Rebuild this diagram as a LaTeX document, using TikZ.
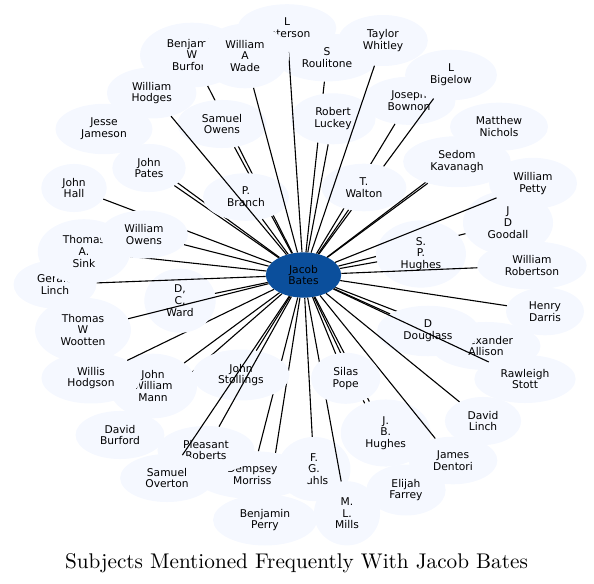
\documentclass[tikz,border=0pt]{standalone}
\usepackage{fontspec}
\newfontfamily\dejavu{DejaVu Sans}
\usetikzlibrary{shapes.geometric}
\definecolor{mist}{RGB}{245,248,255}
\definecolor{jacobblue}{RGB}{11,79,156}
\tikzset{
    person/.style={ellipse, fill=mist, inner xsep=11.5bp, inner ysep=7bp,
      align=center, font=\dejavu\fontsize{10.7bp}{11.7bp}\selectfont},
    hub/.style={person, fill=jacobblue, inner ysep=6bp},
    link/.style={line width=1.1bp}
}

\begin{document}
\begin{tikzpicture}[x=1bp,y=-1bp]
    \useasboundingbox (0,0) rectangle (594,584);
    \node[hub] (jb) at (303.5,275) {Jacob\\Bates};
    % each person, then the link back to Jacob Bates
    \foreach \nm/\x/\y/\txt in {
      rou/327/57.5/{S\\Roulitone}, luc/333/118.8/{Robert\\Luckey},
      pet/287/28/{L\\Peterson}, bbu/192/55/{Benjamin\\W\\Burford},
      jam/104/129/{Jesse\\Jameson}, pat/149/168/{John\\Pates},
      sow/222/124/{Samuel\\Owens}, bra/246/197/{P.\\Branch},
      wad/245/56/{William\\A\\Wade}, hod/151.7/93/{William\\Hodges},
      bow/409/100.8/{Joseph\\Bownon}, big/451/75/{L\\Bigelow},
      wal/364/187.5/{T.\\Walton}, whi/383/40.5/{Taylor\\Whitley},
      nic/499/126.7/{Matthew\\Nichols}, kav/457/161.7/{Sedom\\Kavanagh},
      goo/508/222.8/{J\\D\\Goodall}, sph/421/254/{S.\\P.\\Hughes},
      pty/533/183.3/{William\\Petty}, rob/532/265.5/{William\\Robertson},
      dar/545/311.5/{Henry\\Darris}, all/486/346/{Alexander\\Allison},
      dou/428/331/{D\\Douglass}, sto/525/379/{Rawleigh\\Stott},
      dli/483/421/{David\\Linch}, far/406/490/{Elijah\\Farrey},
      jbh/385.7/433/{J.\\B.\\Hughes}, den/453/460.5/{James\\Dentori},
      kuh/314/469/{F.\\G.\\Kuhls}, mil/347/513.3/{M.\\L.\\Mills},
      pop/345.7/378.3/{Silas\\Pope}, per/265/520/{Benjamin\\Perry}} {
      \node[person] (\nm) at (\x,\y) {\txt};
      \draw[link] (jb) -- (\nm);
    }
    \node[person, inner xsep=16bp] (mor) at (252.3,475) {Dempsey\\Morriss};
    \draw[link] (jb) -- (mor);
    \foreach \nm/\x/\y/\txt in {
      dbu/120/435/{David\\Burford}, stl/241/375/{John\\Stollings},
      pro/206/450/{Pleasant\\Roberts}, ove/167/478/{Samuel\\Overton},
      man/153/386/{John\\William\\Mann}, whd/91/378/{Willis\\Hodgson},
      war/180/300.7/{D,\\C,\\Ward}, woo/83/330/{Thomas\\W\\Wootten},
      gli/55/284.5/{Gerald\\Linch}, sin/84/251.5/{Thomas\\A.\\Sink},
      hal/74/188/{John\\Hall}, wow/144/234.5/{William\\Owens}} {
      \node[person] (\nm) at (\x,\y) {\txt};
      \draw[link] (jb) -- (\nm);
    }
    \node[anchor=base] (title) at (296.5,568)
      {\scalebox{2.13}{Subjects Mentioned Frequently With Jacob Bates}};
\end{tikzpicture}
\end{document}
